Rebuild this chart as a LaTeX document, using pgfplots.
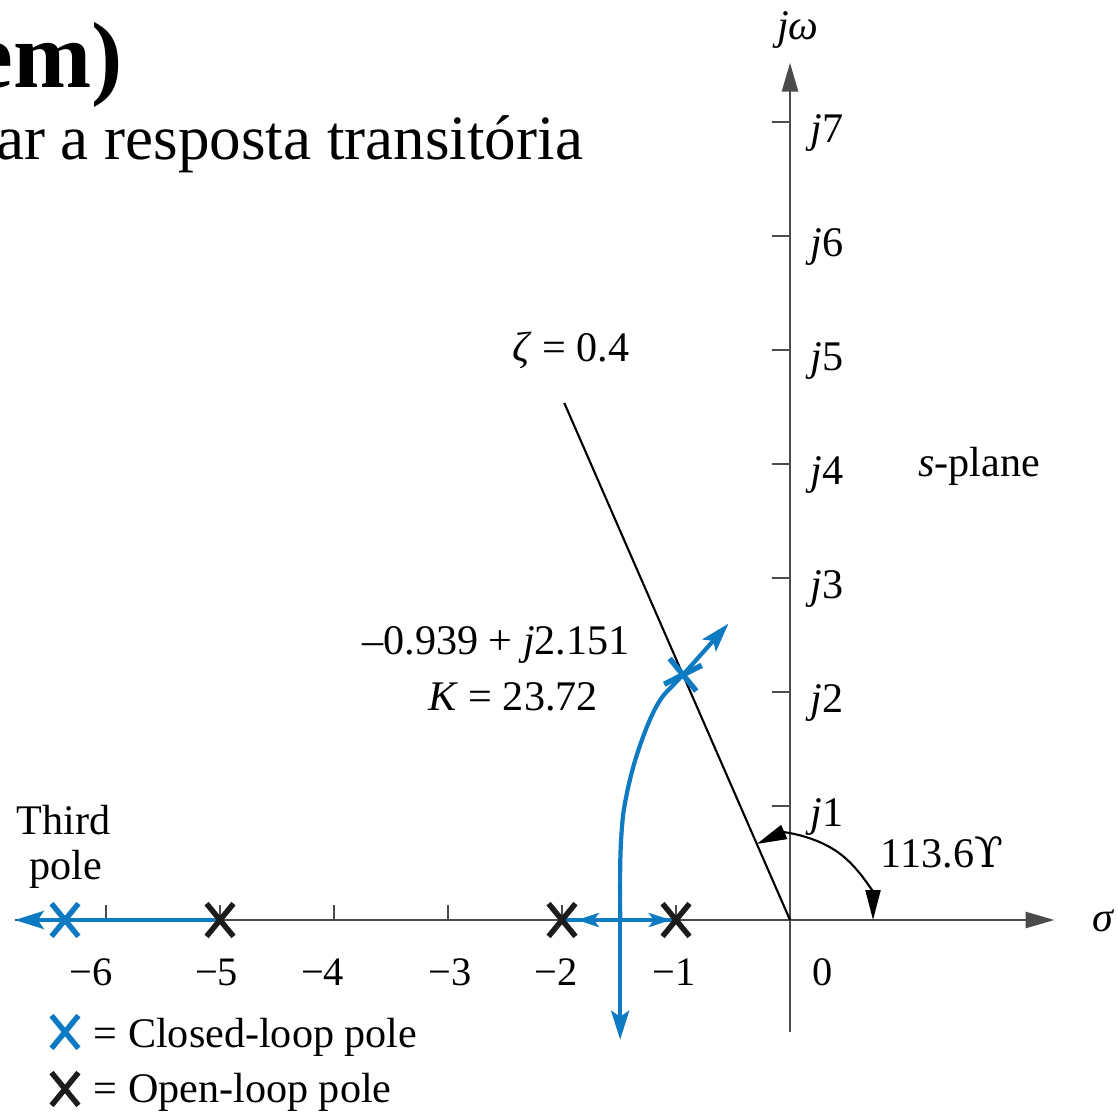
\documentclass[border=0pt]{standalone}
\usepackage{pgfplots}
\pgfplotsset{compat=1.18}
\usepackage{fontspec}
\setmainfont{Liberation Serif}
\newfontfamily\symfont{DejaVu Serif}
\usetikzlibrary{arrows.meta}

\definecolor{locus}{RGB}{14,122,193}
\definecolor{polek}{RGB}{28,28,28}
\definecolor{axgray}{RGB}{75,75,75}

\newcommand\lbl{\fontsize{12}{14}\selectfont}
\newcommand\tkl{\fontsize{11.5}{13}\selectfont}

\tikzset{
  axhead/.style={-{Triangle[length=0.29cm,width=0.16cm]}},
  lochead/.style={-{Stealth[length=0.29cm,width=0.18cm,inset=0.06cm]}},
  smallhead/.style={-{Stealth[length=0.22cm,width=0.14cm,inset=0.05cm]}},
}

\begin{document}
\begin{tikzpicture}
\begin{axis}[
  name=ax, at={(0,0)}, anchor=south west,
  scale only axis, width=11.18cm, height=11.12cm,
  xmin=-6.93, xmax=2.877, ymin=-1.684, ymax=8.07,
  hide axis,
]
% slide heading, partly outside the frame
\node[anchor=base east, inner sep=0pt, font=\fontsize{26.7}{30}\selectfont\bfseries]
  at (axis cs:-5.85,7.298) {em)};
\node[anchor=base east, inner sep=0pt, font=\fontsize{17.95}{21}\selectfont]
  at (axis cs:-1.81,6.667) {ar a resposta transitória};

% s-plane axes
\draw[axgray, line width=0.75pt, axhead] (axis cs:-6.8,0) -- (axis cs:2.32,0);
\draw[axgray, line width=0.75pt, axhead] (axis cs:0,-0.98) -- (axis cs:0,7.52);
\pgfplotsinvokeforeach{-6,-5,-4,-3,-2,-1}{
  \draw[axgray, line width=0.7pt] (axis cs:#1,0) -- (axis cs:#1,0.13);
}
\pgfplotsinvokeforeach{1,...,7}{
  \draw[axgray, line width=0.7pt] (axis cs:0,#1) -- (axis cs:-0.16,#1);
  \node[anchor=base west, inner sep=0pt, font=\lbl] at (axis cs:0.175,#1-0.184) {\textit{j}#1};
}

% tick labels on the real axis
\node[anchor=base, inner sep=0pt, font=\tkl] at (axis cs:-6.13,-0.57) {−6};
\node[anchor=base, inner sep=0pt, font=\tkl] at (axis cs:-5.03,-0.57) {−5};
\node[anchor=base, inner sep=0pt, font=\tkl] at (axis cs:-4.10,-0.57) {−4};
\node[anchor=base, inner sep=0pt, font=\tkl] at (axis cs:-2.98,-0.57) {−3};
\node[anchor=base, inner sep=0pt, font=\tkl] at (axis cs:-2.05,-0.57) {−2};
\node[anchor=base, inner sep=0pt, font=\tkl] at (axis cs:-1.02,-0.57) {−1};
\node[anchor=base, inner sep=0pt, font=\tkl] at (axis cs:0.29,-0.57) {0};

\node[inner sep=0pt, font=\lbl] at (axis cs:0.07,7.807) {\textit{jω}};
\node[inner sep=0pt, font=\lbl] at (axis cs:2.754,-0.01) {\textit{σ}};
\node[anchor=base, inner sep=0pt, font=\lbl] at (axis cs:1.658,3.886) {\textit{s}-plane};

% damping ratio line and angle
\draw[black, line width=0.6pt] (axis cs:0,0) -- (axis cs:-1.98,4.535);
\node[anchor=base, inner sep=0pt, font=\lbl] at (axis cs:-1.921,4.895) {\textit{ζ} = 0.4};
\draw[black, line width=0.6pt,
  {Triangle[length=0.3cm,width=0.15cm]}-{Triangle[length=0.3cm,width=0.15cm]}]
  (axis cs:-0.2914,0.6671) arc[start angle=113.6, end angle=0, radius=0.83cm];
\node[anchor=base, inner sep=0pt, font=\lbl] at (axis cs:1.333,0.465) {113.6{\symfont ϒ}};

% root locus branches
\addplot[locus, line width=1.2pt, lochead] coordinates {(-5,0) (-6.80,0)};
\addplot[locus, line width=1.2pt] coordinates {(-2,0) (-1,0)};
\addplot[locus, line width=1.2pt, smallhead] coordinates {(-1.68,0) (-1.87,0)};
\addplot[locus, line width=1.2pt, smallhead] coordinates {(-1.23,0) (-1.045,0)};
\addplot[locus, line width=1.2pt, lochead] coordinates {(-1.49,0) (-1.49,-1.05)};
\addplot[locus, line width=1.2pt, smooth, lochead] coordinates {
  (-1.49,0) (-1.49,0.45) (-1.482,0.70) (-1.463,0.93) (-1.425,1.14)
  (-1.376,1.34) (-1.32,1.52) (-1.257,1.69) (-1.19,1.84) (-1.11,1.97)
  (-0.939,2.151) (-0.54,2.60)};

% open-loop poles
\addplot[only marks, mark=x, mark size=6.6pt, color=polek,
  mark options={xscale=0.82, line width=1.55pt}]
  coordinates {(-5,0) (-2,0) (-1,0) (-6.36,-1.482)};
% closed-loop poles
\addplot[only marks, mark=x, mark size=6.6pt, color=locus,
  mark options={xscale=0.82, line width=1.55pt}]
  coordinates {(-6.36,0) (-6.36,-0.982)};
\addplot[only marks, mark=x, mark size=6.6pt, color=locus,
  mark options={rotate=-12, yscale=0.8, line width=1.55pt}]
  coordinates {(-0.939,2.151)};

\node[anchor=base, inner sep=0pt, font=\lbl] at (axis cs:-2.579,2.325) {–0.939 + \textit{j}2.151};
\node[anchor=base, inner sep=0pt, font=\lbl] at (axis cs:-2.43,1.842) {\textit{K} = 23.72};

\node[anchor=base, inner sep=0pt, font=\lbl] at (axis cs:-6.37,0.746) {Third};
\node[anchor=base, inner sep=0pt, font=\lbl] at (axis cs:-6.35,0.351) {pole};

% key
\node[anchor=base west, inner sep=0pt, font=\lbl] at (axis cs:-6.114,-1.114) {= Closed-loop pole};
\node[anchor=base west, inner sep=0pt, font=\lbl] at (axis cs:-6.114,-1.605) {= Open-loop pole};
\end{axis}
\pgfresetboundingbox
\path[use as bounding box] (ax.south west) rectangle (ax.north east);
\end{tikzpicture}
\end{document}
